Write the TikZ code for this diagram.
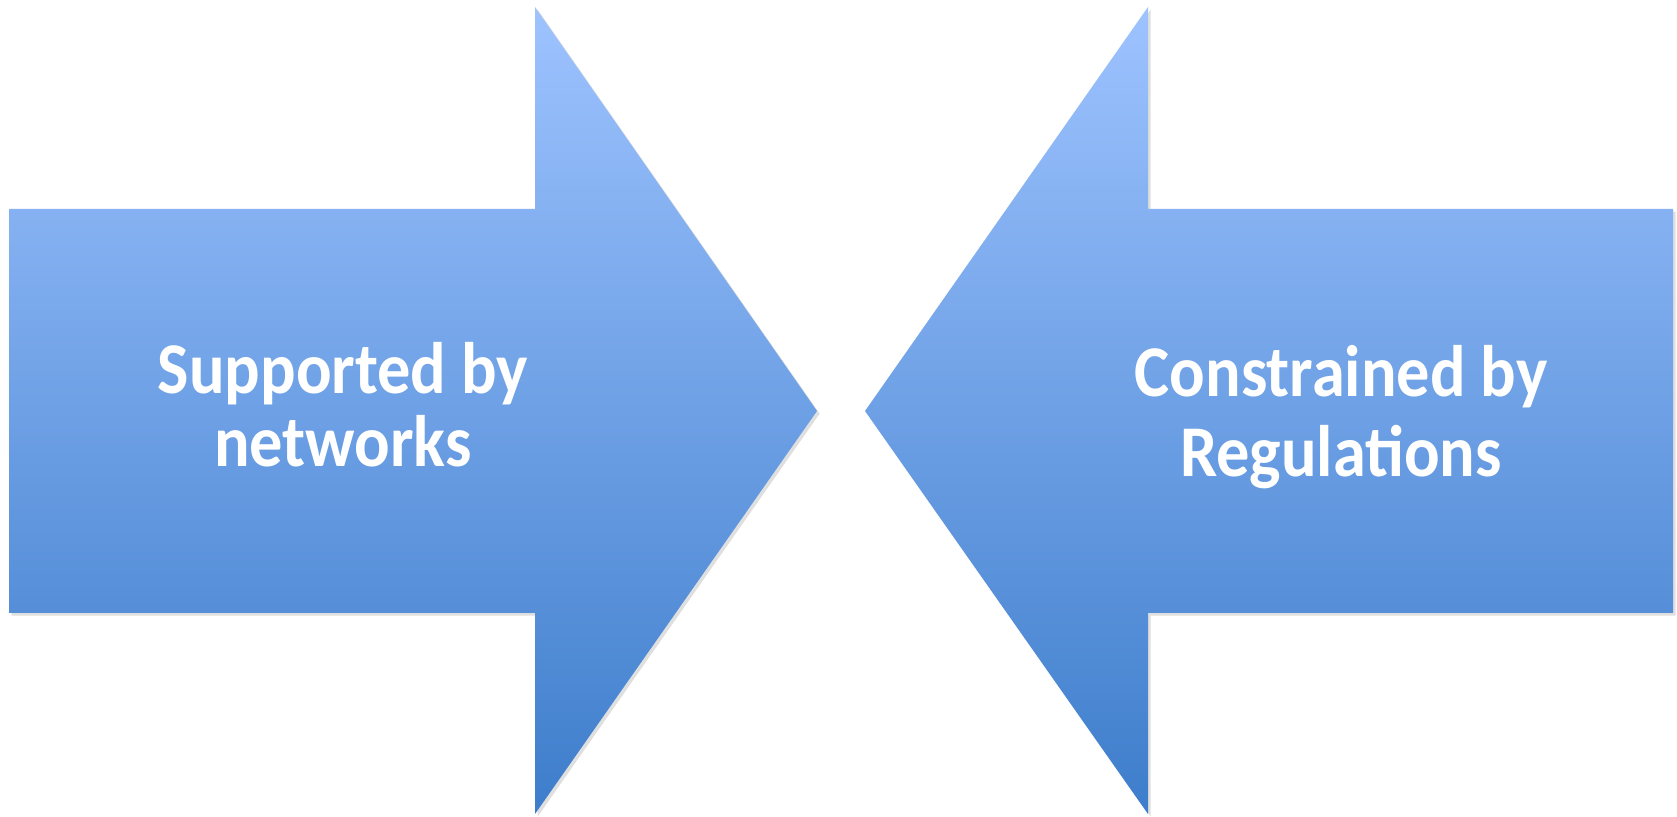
\documentclass[tikz,border=0pt]{standalone}
\usepackage{fontspec}
\setmainfont{Carlito}
\usetikzlibrary{shadows}
\definecolor{arrowtop}{HTML}{9EC3FF}
\definecolor{arrowbottom}{HTML}{3D7DCB}
\newcommand{\squeezed}[1]{\scalebox{0.91}[1]{#1}}
\tikzset{
    bigarrow/.style={top color=arrowtop, bottom color=arrowbottom, draw=none,
        drop shadow={shadow xshift=1.5pt, shadow yshift=-1.5pt, opacity=0.18, fill=black!70}},
    label/.style={text=white, font=\fontsize{41.5}{45}\selectfont\bfseries, anchor=base, inner sep=0pt}
}
\begin{document}
\begin{tikzpicture}[x=0.02cm, y=0.02cm]
    \useasboundingbox (0,0) rectangle (1677,817);
    % left arrow
    \path[bigarrow] (9,204) -- (9,608) -- (535,608) -- (535,810) -- (817,406) -- (535,3) -- (535,204) -- cycle;
    % right arrow
    \path[bigarrow] (1673,204) -- (1673,608) -- (1148,608) -- (1148,810) -- (865,406) -- (1148,3) -- (1148,204) -- cycle;

    \node[label] (sup1) at (343,423) {\squeezed{Supported by}};
    \node[label] (sup2) at (343,350) {\squeezed{networks}};
    \node[label] (con1) at (1341,420) {\squeezed{Constrained by}};
    \node[label] (con2) at (1341,340) {\squeezed{Regulations}};
\end{tikzpicture}
\end{document}
